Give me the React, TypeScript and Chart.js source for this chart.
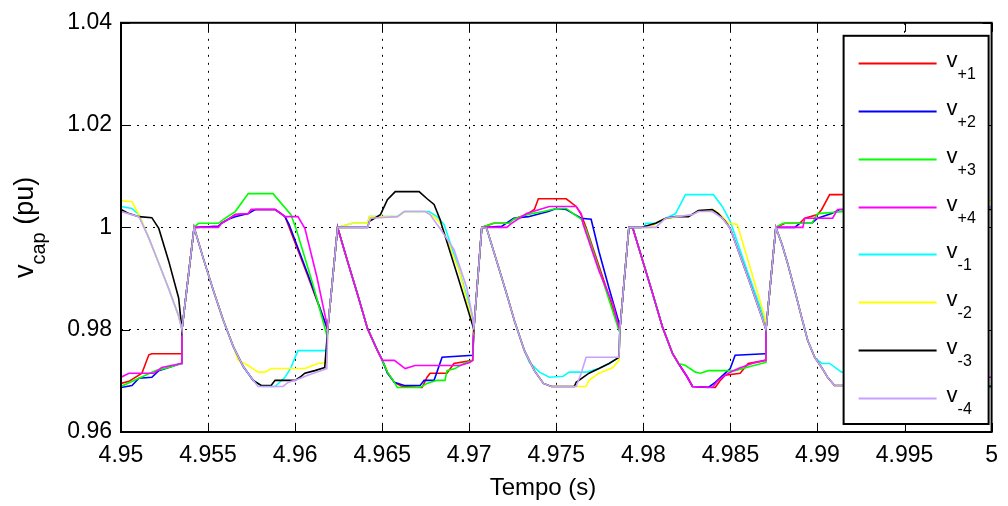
import { useEffect, useRef } from "react";
import { Chart, registerables } from "chart.js";

Chart.register(...registerables);

const FONT = "'Liberation Sans', Arial, sans-serif";

const xTicks = [4.95, 4.955, 4.96, 4.965, 4.97, 4.975, 4.98, 4.985, 4.99, 4.995, 5];
const yTicks = [0.96, 0.98, 1, 1.02, 1.04];
const xLabel = "Tempo (s)";
const yLabelMain = "v";
const yLabelSub = "cap";
const yLabelTail = " (pu)";

const seriesSubs = ["+1", "+2", "+3", "+4", "-1", "-2", "-3", "-4"];
const seriesColors = ["#ff0000", "#0000ff", "#00ff00", "#ff00ff", "#00ffff", "#ffff00", "#000000", "#c8a0ff"];

const vP1: [number, number][] = [
  [4.95, 0.9695], [4.95046, 0.9699], [4.9512, 0.9715], [4.9516, 0.9751], [4.95177, 0.9753], [4.95345, 0.9753],
  [4.9535, 0.98], [4.9542, 1.0],
  [4.95559, 1.0002], [4.95576, 1.0008], [4.95616, 1.0016], [4.95656, 1.0025], [4.95731, 1.0027], [4.95748, 1.0035],
  [4.95885, 1.0035], [4.95919, 1.0027], [4.95942, 1.0021], [4.95959, 1.0006], [4.96073, 0.9905],
  [4.96187, 0.98], [4.96244, 1.0],
  [4.96301, 0.9934], [4.96358, 0.987], [4.96416, 0.9802], [4.96473, 0.9759], [4.96501, 0.974], [4.9653, 0.9717],
  [4.9657, 0.9697], [4.96615, 0.9689], [4.96729, 0.9687], [4.96758, 0.9707], [4.96775, 0.9715], [4.96872, 0.9715],
  [4.96912, 0.9734], [4.9702, 0.974],
  [4.97026, 0.98], [4.97072, 1.0],
  [4.9714, 1.0008], [4.97226, 1.0008], [4.97255, 1.0016], [4.97329, 1.0025], [4.97374, 1.0035], [4.97397, 1.0056],
  [4.97557, 1.0056], [4.97614, 1.0041], [4.97643, 1.0025], [4.97671, 1.0], [4.97768, 0.9901],
  [4.97865, 0.98], [4.97917, 1.0],
  [4.9794, 0.9998], [4.97997, 0.9934], [4.98054, 0.987], [4.98111, 0.9804], [4.98168, 0.9753], [4.98202, 0.9734],
  [4.98253, 0.9707], [4.98282, 0.9689], [4.98413, 0.9687], [4.98442, 0.9701], [4.9847, 0.9711], [4.98556, 0.9715],
  [4.98602, 0.9734], [4.98699, 0.974],
  [4.98704, 0.98], [4.98761, 1.0],
  [4.98813, 1.0008], [4.98898, 1.0008], [4.98927, 1.0018], [4.99001, 1.0025], [4.99024, 1.0035], [4.9907, 1.0064],
  [4.993, 1.0064], [4.9936, 1.003], [4.994, 1.0],
  [4.9953, 0.98], [4.9959, 1.0],
  [4.9965, 0.9905], [4.9972, 0.9775], [4.998, 0.9707], [4.9985, 0.969], [5.0, 0.969],
];

const vP2: [number, number][] = [
  [4.95, 0.9687], [4.95063, 0.9691], [4.95103, 0.9705], [4.95177, 0.9707], [4.95217, 0.972], [4.95274, 0.9726], [4.95345, 0.9734],
  [4.9535, 0.98], [4.9542, 1.0],
  [4.95559, 1.0002], [4.95576, 1.0008], [4.95616, 1.0016], [4.95656, 1.0021], [4.95731, 1.0027], [4.95771, 1.0035],
  [4.95885, 1.0035], [4.95919, 1.0027], [4.95942, 1.0021], [4.95965, 1.0006], [4.9608, 0.9902],
  [4.96187, 0.98], [4.96244, 1.0],
  [4.96301, 0.9934], [4.96358, 0.987], [4.96416, 0.9802], [4.96473, 0.9759], [4.96501, 0.974], [4.9653, 0.9715],
  [4.9657, 0.9697], [4.96627, 0.9691], [4.96718, 0.9691], [4.96741, 0.9701], [4.96798, 0.9701], [4.96844, 0.9746], [4.9702, 0.975],
  [4.97026, 0.98], [4.97072, 1.0],
  [4.97186, 1.0002], [4.97255, 1.0018], [4.9734, 1.0021], [4.97454, 1.0031], [4.975, 1.0037], [4.97557, 1.0035],
  [4.97597, 1.0027], [4.97643, 1.0018], [4.977, 1.0016], [4.97745, 0.9953], [4.97803, 0.9881], [4.9786, 0.9814],
  [4.97865, 0.98], [4.97917, 1.0],
  [4.9794, 0.9998], [4.97997, 0.9934], [4.98054, 0.987], [4.98111, 0.9804], [4.98168, 0.9753], [4.98202, 0.9734],
  [4.98253, 0.9707], [4.98282, 0.9689], [4.98373, 0.9687], [4.98413, 0.9697], [4.9847, 0.9715], [4.98499, 0.9724],
  [4.98527, 0.975], [4.98699, 0.9753],
  [4.98704, 0.98], [4.98761, 1.0],
  [4.9887, 1.0], [4.98898, 1.0008], [4.98967, 1.0008], [4.99001, 1.0018], [4.99081, 1.0027], [4.99127, 1.0035],
  [4.9925, 1.0035], [4.9935, 1.003], [4.9942, 1.0],
  [4.9953, 0.98], [4.9959, 1.0],
  [4.9965, 0.9905], [4.9972, 0.9775], [4.998, 0.9707], [4.9986, 0.9689], [5.0, 0.9689],
];

const vP3: [number, number][] = [
  [4.95, 0.9689], [4.95103, 0.9705], [4.952, 0.972], [4.95274, 0.9726], [4.95345, 0.9734],
  [4.9535, 0.98], [4.9542, 1.0],
  [4.95445, 1.0008], [4.95559, 1.0008], [4.95599, 1.0018], [4.95656, 1.0031], [4.95731, 1.0066], [4.95873, 1.0066],
  [4.95976, 1.0025], [4.96005, 0.9998], [4.96102, 0.9889], [4.9618, 0.9792],
  [4.96187, 0.98], [4.96244, 1.0],
  [4.96301, 0.9934], [4.96358, 0.987], [4.96416, 0.9802], [4.96473, 0.9759], [4.96501, 0.974], [4.9653, 0.9717],
  [4.9657, 0.9697], [4.96587, 0.9687], [4.96718, 0.9687], [4.96758, 0.9695], [4.96815, 0.9701], [4.96861, 0.9701],
  [4.96872, 0.972], [4.96918, 0.9724], [4.96969, 0.9734], [4.9702, 0.974],
  [4.97026, 0.98], [4.97072, 1.0],
  [4.9714, 1.0008], [4.97226, 1.0008], [4.97255, 1.0016], [4.97329, 1.0025], [4.97426, 1.0031], [4.975, 1.0037],
  [4.97557, 1.0037], [4.97597, 1.0027], [4.97643, 1.0016], [4.97671, 0.9996], [4.97768, 0.9895], [4.9786, 0.9798],
  [4.97865, 0.98], [4.97917, 1.0],
  [4.9794, 0.9998], [4.97997, 0.9934], [4.98054, 0.987], [4.98111, 0.9804], [4.98168, 0.9753], [4.98202, 0.9734],
  [4.98242, 0.973], [4.98299, 0.9717], [4.98328, 0.9715], [4.98373, 0.972], [4.98527, 0.972], [4.98613, 0.9728], [4.98699, 0.9736],
  [4.98704, 0.98], [4.98761, 1.0],
  [4.98801, 1.0008], [4.98967, 1.0008], [4.99001, 1.0027], [4.99155, 1.0031], [4.9928, 1.0035], [4.9935, 1.003], [4.9941, 1.0],
  [4.9953, 0.98], [4.9959, 1.0],
  [4.9965, 0.9905], [4.9972, 0.9775], [4.998, 0.9707], [4.9985, 0.9689], [5.0, 0.9687],
];

const vP4: [number, number][] = [
  [4.95, 0.9707], [4.95046, 0.9715], [4.95189, 0.9715], [4.95234, 0.9726], [4.95345, 0.9734],
  [4.9535, 0.98], [4.9542, 1.0],
  [4.95559, 1.0], [4.95576, 1.0008], [4.95616, 1.0016], [4.95656, 1.0025], [4.95731, 1.0027], [4.95748, 1.0035],
  [4.95885, 1.0035], [4.95919, 1.0027], [4.95942, 1.0021], [4.96016, 1.0021], [4.96056, 0.9998], [4.96125, 0.9903], [4.9618, 0.9815],
  [4.96187, 0.98], [4.96244, 1.0],
  [4.96301, 0.9934], [4.96358, 0.987], [4.96416, 0.9802], [4.96473, 0.9759], [4.96501, 0.974], [4.9657, 0.974],
  [4.96632, 0.9724], [4.96689, 0.973], [4.96946, 0.973], [4.97003, 0.9736], [4.9702, 0.974],
  [4.97026, 0.98], [4.97072, 1.0],
  [4.97215, 1.0], [4.97243, 1.0008], [4.97329, 1.0027], [4.9746, 1.0041], [4.97614, 1.0041], [4.97643, 1.0027],
  [4.97654, 1.0006], [4.97745, 0.9915], [4.97825, 0.985], [4.9786, 0.9804],
  [4.97865, 0.98], [4.97917, 1.0],
  [4.9794, 0.9998], [4.97997, 0.9934], [4.98054, 0.987], [4.98111, 0.9804], [4.98168, 0.9753], [4.98202, 0.9734],
  [4.98253, 0.9707], [4.98282, 0.9689], [4.98396, 0.9687], [4.9843, 0.9701], [4.98488, 0.9715], [4.98545, 0.9724],
  [4.98624, 0.9734], [4.98699, 0.974],
  [4.98704, 0.98], [4.98761, 1.0],
  [4.98916, 1.0], [4.98927, 1.0018], [4.99087, 1.0018], [4.99115, 1.0035], [4.9925, 1.0035], [4.9937, 1.0025], [4.9943, 1.0],
  [4.9953, 0.98], [4.9959, 1.0],
  [4.9965, 0.9905], [4.9972, 0.9775], [4.9978, 0.972], [4.9985, 0.9707], [5.0, 0.9707],
];

const vM1: [number, number][] = [
  [4.95, 1.0041], [4.95063, 1.0037], [4.95103, 1.0025], [4.9516, 0.9979], [4.95217, 0.993], [4.95274, 0.988], [4.95331, 0.9827],
  [4.9535, 0.98], [4.9542, 1.0],
  [4.95474, 0.9938], [4.95531, 0.9876], [4.95588, 0.9818], [4.95645, 0.9767], [4.95702, 0.9728], [4.95759, 0.9701],
  [4.95816, 0.9689], [4.95885, 0.9689], [4.95942, 0.9707], [4.95976, 0.9726], [4.96016, 0.9759], [4.96182, 0.9759],
  [4.96187, 0.98], [4.96244, 1.0],
  [4.9633, 1.0008], [4.96416, 1.0008], [4.96427, 1.0021], [4.96587, 1.0021], [4.96627, 1.0031], [4.9677, 1.0031],
  [4.96815, 1.0021], [4.96855, 1.0006], [4.96941, 0.9918], [4.9702, 0.9825],
  [4.97026, 0.98], [4.97072, 1.0],
  [4.971, 0.9998], [4.97158, 0.9934], [4.97215, 0.987], [4.9726, 0.9817], [4.97317, 0.9759], [4.97346, 0.9736],
  [4.97403, 0.9717], [4.9746, 0.9707], [4.9754, 0.9709], [4.97574, 0.9717], [4.97671, 0.9717], [4.97745, 0.9724],
  [4.97803, 0.9734], [4.9786, 0.9746],
  [4.97865, 0.98], [4.97917, 1.0],
  [4.98003, 1.0], [4.98014, 1.0008], [4.98071, 1.0008], [4.98185, 1.0027], [4.98242, 1.0064], [4.98402, 1.0064],
  [4.98453, 1.0041], [4.98499, 1.0012], [4.98596, 0.9915], [4.98699, 0.9817],
  [4.98704, 0.98], [4.98761, 1.0],
  [4.98796, 0.9967], [4.9883, 0.9928], [4.9887, 0.9876], [4.9891, 0.9823], [4.98944, 0.9779], [4.98984, 0.9746],
  [4.99024, 0.9734], [4.9907, 0.9734], [4.99138, 0.9717], [4.9925, 0.9717], [4.9945, 0.974], [4.9952, 0.976],
  [4.9953, 0.98], [4.9959, 1.0],
  [4.9968, 1.0008], [4.9975, 1.0025], [4.9985, 1.0041], [5.0, 1.0041],
];

const vM2: [number, number][] = [
  [4.95, 1.0052], [4.95063, 1.005], [4.95103, 1.0025], [4.9516, 0.9979], [4.95217, 0.993], [4.95274, 0.988], [4.95331, 0.9827],
  [4.9535, 0.98], [4.9542, 1.0],
  [4.95474, 0.9938], [4.95531, 0.9876], [4.95588, 0.9818], [4.95645, 0.9767], [4.95674, 0.974], [4.95731, 0.973],
  [4.95788, 0.9717], [4.95828, 0.9717], [4.95862, 0.9724], [4.96056, 0.9724], [4.9613, 0.9734], [4.96182, 0.9736],
  [4.96187, 0.98], [4.96244, 1.0],
  [4.9633, 1.0008], [4.96416, 1.0008], [4.96427, 1.0021], [4.96587, 1.0021], [4.96627, 1.0031], [4.96747, 1.0031],
  [4.96798, 1.0021], [4.96838, 1.0006], [4.96946, 0.9911], [4.9702, 0.9812],
  [4.97026, 0.98], [4.97072, 1.0],
  [4.971, 0.9998], [4.97158, 0.9934], [4.97215, 0.987], [4.9726, 0.9817], [4.97317, 0.9759], [4.97374, 0.972],
  [4.97426, 0.9695], [4.97472, 0.9689], [4.97671, 0.9689], [4.97688, 0.9701], [4.97745, 0.9715], [4.97825, 0.9726], [4.9786, 0.974],
  [4.97865, 0.98], [4.97917, 1.0],
  [4.98043, 1.0], [4.98071, 1.0008], [4.98111, 1.0016], [4.98282, 1.0025], [4.98328, 1.0033], [4.98413, 1.0033],
  [4.98453, 1.0021], [4.98488, 1.0008], [4.98539, 1.0006], [4.98624, 0.9909], [4.98699, 0.9823],
  [4.98704, 0.98], [4.98761, 1.0],
  [4.98796, 0.9967], [4.9883, 0.9928], [4.9887, 0.9876], [4.9891, 0.9823], [4.98944, 0.9779], [4.98984, 0.9746],
  [4.99024, 0.9726], [4.99058, 0.9707], [4.99098, 0.9691], [4.9935, 0.9691], [4.9945, 0.972], [4.9952, 0.9736],
  [4.9953, 0.98], [4.9959, 1.0],
  [4.9968, 1.0008], [4.9976, 1.003], [4.9985, 1.0052], [5.0, 1.0052],
];

const vM3: [number, number][] = [
  [4.95, 1.0035], [4.95046, 1.0027], [4.95103, 1.0021], [4.95177, 1.0019], [4.95217, 0.9998], [4.95274, 0.9934], [4.95331, 0.9862],
  [4.9535, 0.98], [4.9542, 1.0],
  [4.95474, 0.9938], [4.95531, 0.9876], [4.95588, 0.9818], [4.95645, 0.9767], [4.95702, 0.9728], [4.95759, 0.9701],
  [4.95805, 0.9691], [4.95862, 0.9691], [4.95885, 0.9701], [4.95999, 0.9701], [4.96027, 0.9707], [4.96056, 0.9715],
  [4.96113, 0.972], [4.9617, 0.9726],
  [4.96187, 0.98], [4.96244, 1.0],
  [4.96416, 1.0], [4.96427, 1.0012], [4.9649, 1.0025], [4.9653, 1.0054], [4.96575, 1.007], [4.96712, 1.007],
  [4.96758, 1.0056], [4.96798, 1.0045], [4.96832, 1.0016], [4.96844, 1.0002], [4.96935, 0.9903], [4.9702, 0.9808],
  [4.97026, 0.98], [4.97072, 1.0],
  [4.971, 0.9998], [4.97158, 0.9934], [4.97215, 0.987], [4.9726, 0.9817], [4.97317, 0.9759], [4.97374, 0.972],
  [4.97426, 0.9695], [4.97472, 0.9689], [4.97603, 0.9689], [4.97614, 0.9697], [4.97688, 0.9715], [4.97745, 0.9724],
  [4.97803, 0.9734], [4.9786, 0.9746],
  [4.97865, 0.98], [4.97917, 1.0],
  [4.97986, 1.0], [4.98071, 1.0008], [4.98128, 1.0018], [4.98185, 1.0021], [4.98259, 1.0021], [4.98316, 1.0033],
  [4.98396, 1.0035], [4.9843, 1.0027], [4.9847, 1.0012], [4.98499, 0.9998], [4.98602, 0.9901], [4.98682, 0.9823],
  [4.98704, 0.98], [4.98761, 1.0],
  [4.98796, 0.9967], [4.9883, 0.9928], [4.9887, 0.9876], [4.9891, 0.9823], [4.98944, 0.9779], [4.98984, 0.9746],
  [4.99024, 0.9726], [4.99058, 0.9707], [4.99098, 0.9691], [4.9935, 0.9691], [4.9945, 0.9715], [4.9952, 0.973],
  [4.9953, 0.98], [4.9959, 1.0],
  [4.9968, 1.0008], [4.9976, 1.0025], [4.9985, 1.0035], [5.0, 1.0035],
];

const vM4: [number, number][] = [
  [4.95, 1.0031], [4.95103, 1.0021], [4.9516, 0.9979], [4.95217, 0.993], [4.95274, 0.988], [4.95331, 0.9827],
  [4.9535, 0.98], [4.9542, 1.0],
  [4.95474, 0.9938], [4.95531, 0.9876], [4.95588, 0.9818], [4.95645, 0.9767], [4.95702, 0.9728], [4.95759, 0.9701],
  [4.95788, 0.9689], [4.9593, 0.9689], [4.95959, 0.9697], [4.96016, 0.9703], [4.96073, 0.9711], [4.9613, 0.9718], [4.96182, 0.9724],
  [4.96187, 0.98], [4.96244, 1.0],
  [4.96416, 1.0], [4.96433, 1.0018], [4.96587, 1.0021], [4.96627, 1.0031], [4.96747, 1.0031], [4.96775, 1.0025],
  [4.96832, 0.9998], [4.96912, 0.9957], [4.96986, 0.9882], [4.9702, 0.9823],
  [4.97026, 0.98], [4.97072, 1.0],
  [4.971, 0.9998], [4.97158, 0.9934], [4.97215, 0.987], [4.9726, 0.9817], [4.97317, 0.9759], [4.97374, 0.972],
  [4.97426, 0.9695], [4.97472, 0.9689], [4.97614, 0.9689], [4.97643, 0.9715], [4.97671, 0.9746], [4.9786, 0.9746],
  [4.97865, 0.98], [4.97917, 1.0],
  [4.98071, 1.0], [4.98128, 1.0018], [4.98282, 1.0025], [4.98316, 1.0031], [4.98396, 1.0031], [4.98453, 1.0018],
  [4.98499, 0.9998], [4.98602, 0.9901], [4.98682, 0.9823],
  [4.98704, 0.98], [4.98761, 1.0],
  [4.98796, 0.9967], [4.9883, 0.9928], [4.9887, 0.9876], [4.9891, 0.9823], [4.98944, 0.9779], [4.98984, 0.9746],
  [4.99024, 0.9726], [4.99058, 0.9707], [4.99098, 0.9691], [4.9935, 0.9689], [4.9945, 0.971], [4.9952, 0.9725],
  [4.9953, 0.98], [4.9959, 1.0],
  [4.9968, 1.0008], [4.9976, 1.0025], [4.9985, 1.004], [5.0, 1.004],
];

const seriesData = [vP1, vP2, vP3, vP4, vM1, vM2, vM3, vM4];

const fmt = (v: number) => String(Number(Number(v).toFixed(4)));

const decorPlugin = {
  id: "decor",
  afterDraw(chart: any) {
    const { ctx, chartArea: a, scales } = chart;
    const xs = scales.x;
    const ys = scales.y;
    ctx.save();
    // inner tick marks on all four sides
    ctx.strokeStyle = "#000";
    ctx.lineWidth = 1;
    ctx.beginPath();
    const tl = 9;
    xs.ticks.forEach((t: any) => {
      const px = Math.round(xs.getPixelForValue(t.value)) + 0.5;
      ctx.moveTo(px, a.bottom);
      ctx.lineTo(px, a.bottom - tl);
      ctx.moveTo(px, a.top);
      ctx.lineTo(px, a.top + tl);
    });
    ys.ticks.forEach((t: any) => {
      const py = Math.round(ys.getPixelForValue(t.value)) + 0.5;
      ctx.moveTo(a.left, py);
      ctx.lineTo(a.left + tl, py);
      ctx.moveTo(a.right, py);
      ctx.lineTo(a.right - tl, py);
    });
    ctx.stroke();

    // box
    ctx.lineWidth = 2;
    ctx.strokeRect(a.left, a.top, a.right - a.left, a.bottom - a.top);

    // legend
    const lw = 145;
    const lx = a.right - 3 - lw;
    const ly = a.top + 13;
    const lh = a.bottom - 8 - ly;
    ctx.fillStyle = "#fff";
    ctx.fillRect(lx, ly, lw, lh);
    ctx.lineWidth = 2;
    ctx.strokeStyle = "#000";
    ctx.strokeRect(lx, ly, lw, lh);
    const rowGap = 47.9;
    seriesSubs.forEach((sub, i) => {
      const y = ly + 27 + i * rowGap;
      ctx.strokeStyle = seriesColors[i];
      ctx.lineWidth = 2;
      ctx.beginPath();
      ctx.moveTo(lx + 15, Math.round(y) + 0.5);
      ctx.lineTo(lx + 93, Math.round(y) + 0.5);
      ctx.stroke();
      ctx.fillStyle = "#000";
      ctx.textAlign = "left";
      ctx.textBaseline = "alphabetic";
      ctx.font = `22px ${FONT}`;
      ctx.fillText("v", lx + 103, y + 4);
      ctx.font = `16px ${FONT}`;
      ctx.fillText(sub, lx + 114, y + 16);
    });

    // x axis title
    ctx.fillStyle = "#000";
    ctx.font = `24px ${FONT}`;
    ctx.textAlign = "center";
    ctx.textBaseline = "alphabetic";
    ctx.fillText(xLabel, 543, 495);

    // y axis title (rotated, with subscript)
    ctx.save();
    ctx.translate(33, (a.top + a.bottom) / 2);
    ctx.rotate(-Math.PI / 2);
    ctx.textAlign = "left";
    const mainFont = `27px ${FONT}`;
    const subFont = `20px ${FONT}`;
    ctx.font = mainFont;
    const w1 = ctx.measureText(yLabelMain).width;
    const w3 = ctx.measureText(yLabelTail).width;
    ctx.font = subFont;
    const w2 = ctx.measureText(yLabelSub).width;
    let x0 = -(w1 + w2 + w3) / 2;
    ctx.font = mainFont;
    ctx.fillText(yLabelMain, x0, 0);
    x0 += w1;
    ctx.font = subFont;
    ctx.fillText(yLabelSub, x0, 12);
    x0 += w2;
    ctx.font = mainFont;
    ctx.fillText(yLabelTail, x0, 0);
    ctx.restore();

    ctx.restore();
  },
};

export default function App() {
  const ref = useRef<HTMLCanvasElement>(null);
  useEffect(() => {
    const canvas = ref.current;
    if (!canvas) return;
    const chart = new Chart(canvas, {
      type: "line",
      data: {
        datasets: seriesData.map((s, i) => ({
          label: "v" + seriesSubs[i],
          data: s.map(([x, y]) => ({ x, y })),
          borderColor: seriesColors[i],
          backgroundColor: seriesColors[i],
          borderWidth: 1.6,
          pointRadius: 0,
          fill: false,
          tension: 0,
          order: seriesData.length - 1 - i,
        })),
      },
      options: {
        animation: false,
        responsive: false,
        maintainAspectRatio: false,
        devicePixelRatio: 1,
        layout: { padding: { left: 8, top: 20, right: 9, bottom: 0 } },
        plugins: { legend: { display: false }, tooltip: { enabled: false }, title: { display: false } },
        scales: {
          x: {
            type: "linear",
            min: 4.95,
            max: 5,
            afterBuildTicks: (scale: any) => {
              scale.ticks = xTicks.map((v) => ({ value: v }));
            },
            afterFit: (scale: any) => {
              scale.height = 74;
            },
            ticks: {
              callback: (v: any) => fmt(v),
              font: { family: FONT, size: 23 },
              color: "#000",
              padding: 10,
              maxRotation: 0,
              autoSkip: false,
            },
            grid: { color: "#000", lineWidth: 1, drawTicks: false },
            border: { display: false, dash: [2, 6] },
          },
          y: {
            type: "linear",
            min: 0.96,
            max: 1.04,
            afterBuildTicks: (scale: any) => {
              scale.ticks = yTicks.map((v) => ({ value: v }));
            },
            afterFit: (scale: any) => {
              scale.width = 113;
            },
            ticks: {
              callback: (v: any) => fmt(v),
              font: { family: FONT, size: 23 },
              color: "#000",
              padding: 9,
              autoSkip: false,
            },
            grid: { color: "#000", lineWidth: 1, drawTicks: false },
            border: { display: false, dash: [2, 6] },
          },
        },
      },
      plugins: [decorPlugin],
    } as any);
    return () => chart.destroy();
  }, []);
  return (
    <div style={{ position: "absolute", left: 0, top: 0, width: 1008, height: 506, background: "#fff" }}>
      <canvas ref={ref} width={1008} height={506} style={{ display: "block" }} />
    </div>
  );
}
